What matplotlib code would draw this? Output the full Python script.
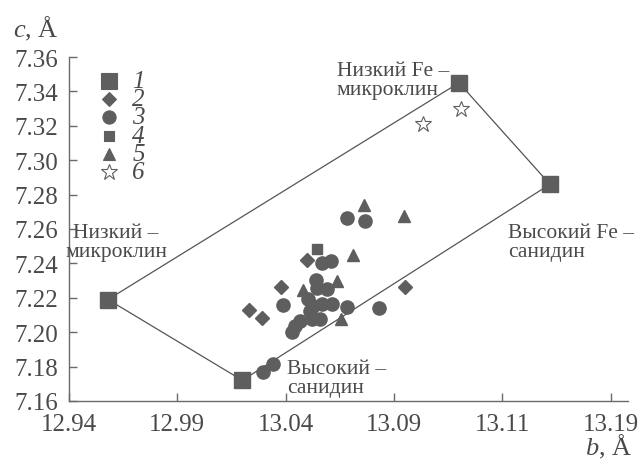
import matplotlib
matplotlib.use('Agg')

import matplotlib.pyplot as plt

plt.rcParams['font.family'] = ['Liberation Serif', 'DejaVu Serif']
plt.rcParams['mathtext.fontset'] = 'custom'
plt.rcParams['mathtext.rm'] = 'Liberation Serif'
plt.rcParams['mathtext.it'] = 'Liberation Serif:italic'

# field corners (1): b, c
corner_b = [12.958, 13.120, 13.162, 13.020]
corner_c = [7.219, 7.345, 7.286, 7.172]
corner_names = ['Низкий –\nмикроклин', 'Низкий Fe –\nмикроклин',
                'Высокий Fe –\nсанидин', 'Высокий –\nсанидин']

# 2 - diamonds
b2 = [13.050, 13.038, 13.023, 13.029, 13.095]
c2 = [7.242, 7.226, 7.213, 7.208, 7.226]

# 3 - circles
b3 = [13.0685, 13.0767, 13.0567, 13.0608, 13.0539, 13.0544, 13.0590, 13.0505,
      13.0528, 13.0567, 13.0613, 13.0513, 13.0559, 13.0520, 13.0466, 13.0443,
      13.0428, 13.0682, 13.0831, 13.0388, 13.0343, 13.0294]
c3 = [7.2666, 7.2647, 7.2402, 7.2416, 7.2305, 7.2255, 7.2251, 7.2193,
      7.2154, 7.2164, 7.2164, 7.2125, 7.2077, 7.2077, 7.2067, 7.2038,
      7.1999, 7.2145, 7.2141, 7.2158, 7.1815, 7.1767]

# 4 - small squares
b4 = [13.0544]
c4 = [7.2484]

# 5 - triangles
b5 = [13.0763, 13.0947, 13.0713, 13.0636, 13.0482, 13.0656]
c5 = [7.2740, 7.2674, 7.2449, 7.2299, 7.2245, 7.2077]

# 6 - stars
b6 = [13.1210, 13.1036]
c6 = [7.3298, 7.3210]

xticks = [12.94, 12.99, 13.04, 13.09, 13.14, 13.19]
xtick_labels = ['12.94', '12.99', '13.04', '13.09', '13.11', '13.19']
yticks = [7.16, 7.18, 7.20, 7.22, 7.24, 7.26, 7.28, 7.30, 7.32, 7.34, 7.36]

grey = '#5e5e5e'
txt = '#4a4a4a'

fig = plt.figure(figsize=(6.38, 4.60), dpi=100)
ax = fig.add_axes([0.1082, 0.1261, 0.876, 0.7478])

# field outline
ax.plot(corner_b + corner_b[:1], corner_c + corner_c[:1], color='#555555',
        lw=0.9, zorder=2, clip_on=False)
ax.plot(corner_b, corner_c, 's', color=grey, ms=11, zorder=3, clip_on=False)

ax.plot(b2, c2, 'D', color=grey, ms=7, mec=grey, zorder=4)
ax.plot(b3, c3, 'o', color=grey, ms=9.5, mec=grey, zorder=4)
ax.plot(b4, c4, 's', color=grey, ms=6.5, zorder=4)
ax.plot(b5, c5, '^', color=grey, ms=9, zorder=4)
ax.plot(b6, c6, '*', mfc='white', mec=grey, mew=0.8, ms=12, zorder=4)

# corner labels (baseline = last line)
lab = dict(fontsize=15.5, color=txt, va='baseline', linespacing=1.02,
           clip_on=False)
ax.text(12.9617, 7.2443, corner_names[0], ha='center',
        multialignment='center', **lab)
ax.text(13.0636, 7.3385, corner_names[1], ha='left', **lab)
ax.text(13.1427, 7.2443, corner_names[2], ha='left', **lab)
ax.text(13.0406, 7.1650, corner_names[3], ha='left', **lab)

# legend
leg_markers = [('s', 11, grey, grey), ('D', 7, grey, grey), ('o', 9.5, grey, grey),
               ('s', 6.5, grey, grey), ('^', 9, grey, grey), ('*', 12, 'white', grey)]
for i, (m, s, fc, ec) in enumerate(leg_markers):
    y = (402 - (82 + i * 18.2)) / 344
    ax.plot([0.0716], [y], m, ms=s, mfc=fc, mec=ec, mew=0.8,
            transform=ax.transAxes, clip_on=False)
    ax.text(0.113, y, str(i + 1), fontsize=18, style='italic', color=txt,
            ha='left', va='center', transform=ax.transAxes)

ax.set_xlim(12.94, 13.198)
ax.set_ylim(7.16, 7.36)
ax.set_xticks(xticks)
ax.set_xticklabels(xtick_labels)
ax.set_yticks(yticks)
ax.set_yticklabels(['%.2f' % v for v in yticks])

for s in ['top', 'right']:
    ax.spines[s].set_visible(False)
for s in ['left', 'bottom']:
    ax.spines[s].set_color('#6a6a6a')
    ax.spines[s].set_linewidth(1.0)

ax.tick_params(direction='in', length=6, width=1.0, color='#6a6a6a',
               labelsize=18, labelcolor=txt)
ax.tick_params(axis='x', pad=9)
ax.tick_params(axis='y', pad=8)

fig.text(13 / 638, 1 - 37 / 460, r'$\mathit{c}$, Å', fontsize=19, color=txt,
         ha='left', va='baseline')
fig.text(632 / 638, 1 - 455 / 460, r'$\mathit{b}$, Å', fontsize=19, color=txt,
         ha='right', va='baseline')

fig.savefig('out.png', dpi=100)
